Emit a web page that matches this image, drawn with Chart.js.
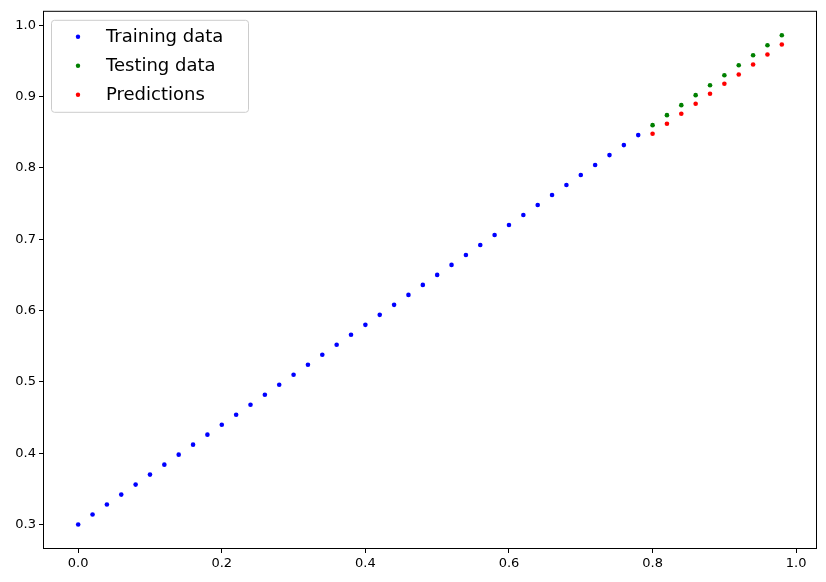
<!DOCTYPE html>
<html><head><meta charset="utf-8">
<script src="https://cdn.jsdelivr.net/npm/chart.js@4"></script>
<style>html,body{margin:0;padding:0;background:#fff}#w{width:826px;height:582px}</style>
</head><body><div id="w"><canvas id="c"></canvas></div>
<script>
const trainX=[0,0.02,0.04,0.06,0.08,0.1,0.12,0.14,0.16,0.18,0.2,0.22,0.24,0.26,0.28,0.3,0.32,0.34,0.36,0.38,0.4,0.42,0.44,0.46,0.48,0.5,0.52,0.54,0.56,0.58,0.6,0.62,0.64,0.66,0.68,0.7,0.72,0.74,0.76,0.78];
const trainY=[0.3,0.314,0.328,0.342,0.356,0.37,0.384,0.398,0.412,0.426,0.44,0.454,0.468,0.482,0.496,0.51,0.524,0.538,0.552,0.566,0.58,0.594,0.608,0.622,0.636,0.65,0.664,0.678,0.692,0.706,0.72,0.734,0.748,0.762,0.776,0.79,0.804,0.818,0.832,0.846];
const testX=[0.8,0.82,0.84,0.86,0.88,0.9,0.92,0.94,0.96,0.98];
const testY=[0.86,0.874,0.888,0.902,0.916,0.93,0.944,0.958,0.972,0.986];
const predY=[0.848,0.862,0.876,0.890,0.904,0.918,0.931,0.945,0.959,0.973];
const xTicks=[0,0.2,0.4,0.6,0.8,1.0];
const yTicks=[0.3,0.4,0.5,0.6,0.7,0.8,0.9,1.0];
const legendLabels=['Training data','Testing data','Predictions'];
const colors=['#0000ff','#008000','#ff0000'];
const pts=(xs,ys)=>xs.map((x,i)=>({x:x,y:ys[i]}));
const F='"DejaVu Sans", sans-serif';
const frame={id:'frame',afterDraw(ch){const a=ch.chartArea,c=ch.ctx;c.save();c.strokeStyle='#000';c.lineWidth=1;c.strokeRect(a.left+0.5,a.top+0.5,a.right-a.left-1,a.bottom-a.top-1);
 const lx=a.left+8,ly=a.top+9,w=197,h=92;c.fillStyle='rgba(255,255,255,0.8)';c.strokeStyle='#cccccc';c.beginPath();c.roundRect(lx+0.5,ly+0.5,w,h,3);c.fill();c.stroke();
 c.font='18px '+F;c.textBaseline='middle';legendLabels.forEach((t,i)=>{const yy=ly+17+i*29;c.fillStyle=colors[i];c.beginPath();c.arc(lx+27,yy,2.2,0,7);c.fill();c.fillStyle='#000';c.fillText(t,lx+55,yy+1);});c.restore();}};
new Chart(document.getElementById('c'),{type:'scatter',
data:{datasets:[
{label:legendLabels[0],data:pts(trainX,trainY),backgroundColor:colors[0],borderWidth:0,pointRadius:2.3},
{label:legendLabels[1],data:pts(testX,testY),backgroundColor:colors[1],borderWidth:0,pointRadius:2.3},
{label:legendLabels[2],data:pts(testX,predY),backgroundColor:colors[2],borderWidth:0,pointRadius:2.3}]},
options:{responsive:true,maintainAspectRatio:false,animation:false,devicePixelRatio:1,
layout:{padding:{top:9,right:9,left:0,bottom:0}},
plugins:{legend:{display:false},tooltip:{enabled:false}},
scales:{
x:{type:'linear',min:-0.049,max:1.029,afterBuildTicks:s=>{s.ticks=xTicks.map(v=>({value:v}))},afterFit:s=>{s.height=33},
 grid:{drawOnChartArea:false,tickLength:4,color:'#000'},border:{display:false},
 ticks:{color:'#000',font:{family:F,size:13},padding:3,callback:v=>v.toFixed(1),maxRotation:0}},
y:{type:'linear',min:0.2657,max:1.0203,afterBuildTicks:s=>{s.ticks=yTicks.map(v=>({value:v}))},afterFit:s=>{s.width=43},
 grid:{drawOnChartArea:false,tickLength:4,color:'#000'},border:{display:false},
 ticks:{color:'#000',font:{family:F,size:13},padding:3,callback:v=>v.toFixed(1)}}}},
plugins:[frame]});
</script></body></html>
